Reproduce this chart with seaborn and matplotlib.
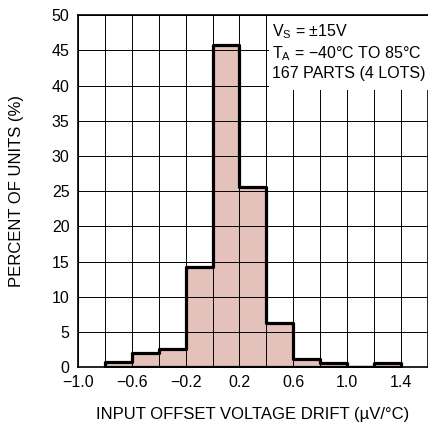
import matplotlib
matplotlib.use("Agg")
import matplotlib.pyplot as plt
import numpy as np
import seaborn as sns
from matplotlib.patches import Rectangle

# Histogram data
bin_edges = [-0.8, -0.6, -0.4, -0.2, 0.0, 0.2, 0.4, 0.6, 0.8, 1.0, 1.2, 1.4]
percent = [0.8, 2.0, 2.6, 14.3, 45.8, 25.6, 6.3, 1.1, 0.6, 0.0, 0.6]
x_ticks = [-1.0, -0.6, -0.2, 0.2, 0.6, 1.0, 1.4]
y_ticks = [0, 5, 10, 15, 20, 25, 30, 35, 40, 45, 50]
note_lines = [r"V$_\mathregular{S}$ = ±15V",
              r"T$_\mathregular{A}$ = −40°C TO 85°C",
              "167 PARTS (4 LOTS)"]

sns.set_style("white")
plt.rcParams['font.family'] = ['Liberation Sans', 'DejaVu Sans']
plt.rcParams['mathtext.fontset'] = 'custom'
plt.rcParams['mathtext.rm'] = 'Liberation Sans'
plt.rcParams['text.color'] = 'black'
plt.rcParams['axes.labelcolor'] = 'black'
plt.rcParams['xtick.color'] = 'black'
plt.rcParams['ytick.color'] = 'black'

centers = [(a + b) / 2 for a, b in zip(bin_edges[:-1], bin_edges[1:])]

fig = plt.figure(figsize=(4.28, 4.23), dpi=100)
ax = fig.add_axes([0.182, 0.132, 0.818, 0.832])

sns.histplot(x=centers, weights=percent, bins=bin_edges, element="step",
             fill=True, facecolor="#e5c1bb", edgecolor="black", linewidth=2.3,
             alpha=1, ax=ax)

ax.set_xlim(-1.0, 1.6)
ax.set_ylim(0, 50)
grid_x = np.arange(-1.0, 1.61, 0.2)
ax.set_xticks(grid_x)
ax.set_xticklabels([f"{t:.1f}".replace("-", "−") if any(abs(t - v) < 1e-6 for v in x_ticks) else ""
                    for t in grid_x])
ax.set_yticks(y_ticks)
ax.tick_params(length=0, labelsize=11.5, pad=6)
ax.grid(True, color="black", linewidth=0.7)
ax.set_axisbelow(False)
for s in ax.spines.values():
    s.set_color("black")
    s.set_linewidth(1.2)

# white note box covering the grid in the upper right corner
ax.add_patch(Rectangle((0.547, 0.787), 0.46, 0.212, transform=ax.transAxes,
                       facecolor="white", edgecolor="none", zorder=3, clip_on=False))
ax.text(0.553, 0.98, "\n".join(note_lines), transform=ax.transAxes,
        va="top", ha="left", fontsize=11.5, linespacing=1.25, zorder=4)

ax.set_xlabel("INPUT OFFSET VOLTAGE DRIFT (µV/°C)", fontsize=12, labelpad=12)
ax.set_ylabel("PERCENT OF UNITS (%)", fontsize=12, labelpad=20)

fig.savefig("out.png", dpi=100)
